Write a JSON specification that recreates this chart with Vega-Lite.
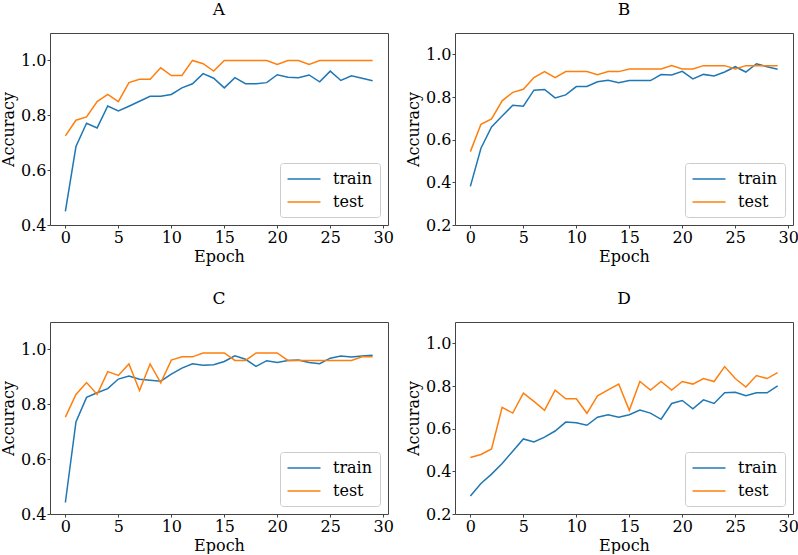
{
  "$schema": "https://vega.github.io/schema/vega-lite/v6.json",
  "background": "white",
  "padding": {"left": 0, "top": 0, "right": 0, "bottom": 0},
  "config": {
    "font": "DejaVu Serif",
    "view": {"stroke": "#444444", "strokeWidth": 1},
    "axis": {"grid": false, "domain": false, "tickColor": "#444444", "tickSize": 3, "tickWidth": 1,
      "labelFont": "DejaVu Serif", "labelFontSize": 16, "labelColor": "#000000", "labelPadding": 1,
      "titleFont": "DejaVu Serif", "titleFontSize": 16, "titleFontWeight": "normal", "titleColor": "#000000"},
    "axisX": {"titlePadding": 3},
    "axisY": {"titlePadding": 4},
    "legend": {"labelFont": "DejaVu Serif", "labelFontSize": 16, "labelColor": "#000000",
      "symbolType": "M-2,0H2", "symbolStrokeWidth": 1.5, "symbolSize": 272, "symbolOffset": 8,
      "strokeColor": "#cccccc", "fillColor": "white", "padding": 7, "cornerRadius": 3,
      "offset": 8, "rowPadding": 6, "labelOffset": 20},
    "title": {"font": "DejaVu Serif", "fontSize": 17, "fontWeight": "normal", "color": "#000000", "offset": 14}
  },
  "data": {"values": [
    {"panel":"A","series":"train","epoch":0,"acc":0.45},{"panel":"A","series":"train","epoch":1,"acc":0.686},{"panel":"A","series":"train","epoch":2,"acc":0.771},{"panel":"A","series":"train","epoch":3,"acc":0.754},{"panel":"A","series":"train","epoch":4,"acc":0.834},{"panel":"A","series":"train","epoch":5,"acc":0.816},{"panel":"A","series":"train","epoch":6,"acc":0.833},{"panel":"A","series":"train","epoch":7,"acc":0.851},{"panel":"A","series":"train","epoch":8,"acc":0.869},{"panel":"A","series":"train","epoch":9,"acc":0.869},{"panel":"A","series":"train","epoch":10,"acc":0.876},{"panel":"A","series":"train","epoch":11,"acc":0.9},{"panel":"A","series":"train","epoch":12,"acc":0.915},{"panel":"A","series":"train","epoch":13,"acc":0.952},{"panel":"A","series":"train","epoch":14,"acc":0.935},{"panel":"A","series":"train","epoch":15,"acc":0.9},{"panel":"A","series":"train","epoch":16,"acc":0.937},{"panel":"A","series":"train","epoch":17,"acc":0.915},{"panel":"A","series":"train","epoch":18,"acc":0.915},{"panel":"A","series":"train","epoch":19,"acc":0.919},{"panel":"A","series":"train","epoch":20,"acc":0.948},{"panel":"A","series":"train","epoch":21,"acc":0.939},{"panel":"A","series":"train","epoch":22,"acc":0.937},{"panel":"A","series":"train","epoch":23,"acc":0.947},{"panel":"A","series":"train","epoch":24,"acc":0.922},{"panel":"A","series":"train","epoch":25,"acc":0.961},{"panel":"A","series":"train","epoch":26,"acc":0.927},{"panel":"A","series":"train","epoch":27,"acc":0.944},{"panel":"A","series":"train","epoch":28,"acc":0.935},{"panel":"A","series":"train","epoch":29,"acc":0.926},
    {"panel":"A","series":"test","epoch":0,"acc":0.725},{"panel":"A","series":"test","epoch":1,"acc":0.782},{"panel":"A","series":"test","epoch":2,"acc":0.794},{"panel":"A","series":"test","epoch":3,"acc":0.85},{"panel":"A","series":"test","epoch":4,"acc":0.876},{"panel":"A","series":"test","epoch":5,"acc":0.85},{"panel":"A","series":"test","epoch":6,"acc":0.919},{"panel":"A","series":"test","epoch":7,"acc":0.931},{"panel":"A","series":"test","epoch":8,"acc":0.931},{"panel":"A","series":"test","epoch":9,"acc":0.973},{"panel":"A","series":"test","epoch":10,"acc":0.945},{"panel":"A","series":"test","epoch":11,"acc":0.945},{"panel":"A","series":"test","epoch":12,"acc":1.0},{"panel":"A","series":"test","epoch":13,"acc":0.988},{"panel":"A","series":"test","epoch":14,"acc":0.961},{"panel":"A","series":"test","epoch":15,"acc":1.0},{"panel":"A","series":"test","epoch":16,"acc":1.0},{"panel":"A","series":"test","epoch":17,"acc":1.0},{"panel":"A","series":"test","epoch":18,"acc":1.0},{"panel":"A","series":"test","epoch":19,"acc":1.0},{"panel":"A","series":"test","epoch":20,"acc":0.985},{"panel":"A","series":"test","epoch":21,"acc":1.0},{"panel":"A","series":"test","epoch":22,"acc":1.0},{"panel":"A","series":"test","epoch":23,"acc":0.985},{"panel":"A","series":"test","epoch":24,"acc":1.0},{"panel":"A","series":"test","epoch":25,"acc":1.0},{"panel":"A","series":"test","epoch":26,"acc":1.0},{"panel":"A","series":"test","epoch":27,"acc":1.0},{"panel":"A","series":"test","epoch":28,"acc":1.0},{"panel":"A","series":"test","epoch":29,"acc":1.0},
    {"panel":"B","series":"train","epoch":0,"acc":0.381},{"panel":"B","series":"train","epoch":1,"acc":0.56},{"panel":"B","series":"train","epoch":2,"acc":0.66},{"panel":"B","series":"train","epoch":3,"acc":0.711},{"panel":"B","series":"train","epoch":4,"acc":0.761},{"panel":"B","series":"train","epoch":5,"acc":0.757},{"panel":"B","series":"train","epoch":6,"acc":0.832},{"panel":"B","series":"train","epoch":7,"acc":0.835},{"panel":"B","series":"train","epoch":8,"acc":0.796},{"panel":"B","series":"train","epoch":9,"acc":0.81},{"panel":"B","series":"train","epoch":10,"acc":0.849},{"panel":"B","series":"train","epoch":11,"acc":0.849},{"panel":"B","series":"train","epoch":12,"acc":0.871},{"panel":"B","series":"train","epoch":13,"acc":0.878},{"panel":"B","series":"train","epoch":14,"acc":0.867},{"panel":"B","series":"train","epoch":15,"acc":0.877},{"panel":"B","series":"train","epoch":16,"acc":0.877},{"panel":"B","series":"train","epoch":17,"acc":0.877},{"panel":"B","series":"train","epoch":18,"acc":0.905},{"panel":"B","series":"train","epoch":19,"acc":0.903},{"panel":"B","series":"train","epoch":20,"acc":0.92},{"panel":"B","series":"train","epoch":21,"acc":0.885},{"panel":"B","series":"train","epoch":22,"acc":0.906},{"panel":"B","series":"train","epoch":23,"acc":0.899},{"panel":"B","series":"train","epoch":24,"acc":0.917},{"panel":"B","series":"train","epoch":25,"acc":0.942},{"panel":"B","series":"train","epoch":26,"acc":0.917},{"panel":"B","series":"train","epoch":27,"acc":0.956},{"panel":"B","series":"train","epoch":28,"acc":0.942},{"panel":"B","series":"train","epoch":29,"acc":0.93},
    {"panel":"B","series":"test","epoch":0,"acc":0.544},{"panel":"B","series":"test","epoch":1,"acc":0.672},{"panel":"B","series":"test","epoch":2,"acc":0.697},{"panel":"B","series":"test","epoch":3,"acc":0.782},{"panel":"B","series":"test","epoch":4,"acc":0.822},{"panel":"B","series":"test","epoch":5,"acc":0.836},{"panel":"B","series":"test","epoch":6,"acc":0.891},{"panel":"B","series":"test","epoch":7,"acc":0.919},{"panel":"B","series":"test","epoch":8,"acc":0.891},{"panel":"B","series":"test","epoch":9,"acc":0.919},{"panel":"B","series":"test","epoch":10,"acc":0.919},{"panel":"B","series":"test","epoch":11,"acc":0.919},{"panel":"B","series":"test","epoch":12,"acc":0.905},{"panel":"B","series":"test","epoch":13,"acc":0.919},{"panel":"B","series":"test","epoch":14,"acc":0.919},{"panel":"B","series":"test","epoch":15,"acc":0.931},{"panel":"B","series":"test","epoch":16,"acc":0.931},{"panel":"B","series":"test","epoch":17,"acc":0.931},{"panel":"B","series":"test","epoch":18,"acc":0.931},{"panel":"B","series":"test","epoch":19,"acc":0.947},{"panel":"B","series":"test","epoch":20,"acc":0.931},{"panel":"B","series":"test","epoch":21,"acc":0.931},{"panel":"B","series":"test","epoch":22,"acc":0.947},{"panel":"B","series":"test","epoch":23,"acc":0.947},{"panel":"B","series":"test","epoch":24,"acc":0.947},{"panel":"B","series":"test","epoch":25,"acc":0.931},{"panel":"B","series":"test","epoch":26,"acc":0.947},{"panel":"B","series":"test","epoch":27,"acc":0.947},{"panel":"B","series":"test","epoch":28,"acc":0.947},{"panel":"B","series":"test","epoch":29,"acc":0.947},
    {"panel":"C","series":"train","epoch":0,"acc":0.442},{"panel":"C","series":"train","epoch":1,"acc":0.736},{"panel":"C","series":"train","epoch":2,"acc":0.825},{"panel":"C","series":"train","epoch":3,"acc":0.842},{"panel":"C","series":"train","epoch":4,"acc":0.857},{"panel":"C","series":"train","epoch":5,"acc":0.892},{"panel":"C","series":"train","epoch":6,"acc":0.903},{"panel":"C","series":"train","epoch":7,"acc":0.891},{"panel":"C","series":"train","epoch":8,"acc":0.888},{"panel":"C","series":"train","epoch":9,"acc":0.884},{"panel":"C","series":"train","epoch":10,"acc":0.91},{"panel":"C","series":"train","epoch":11,"acc":0.932},{"panel":"C","series":"train","epoch":12,"acc":0.948},{"panel":"C","series":"train","epoch":13,"acc":0.942},{"panel":"C","series":"train","epoch":14,"acc":0.944},{"panel":"C","series":"train","epoch":15,"acc":0.956},{"panel":"C","series":"train","epoch":16,"acc":0.977},{"panel":"C","series":"train","epoch":17,"acc":0.964},{"panel":"C","series":"train","epoch":18,"acc":0.938},{"panel":"C","series":"train","epoch":19,"acc":0.959},{"panel":"C","series":"train","epoch":20,"acc":0.952},{"panel":"C","series":"train","epoch":21,"acc":0.96},{"panel":"C","series":"train","epoch":22,"acc":0.961},{"panel":"C","series":"train","epoch":23,"acc":0.952},{"panel":"C","series":"train","epoch":24,"acc":0.948},{"panel":"C","series":"train","epoch":25,"acc":0.968},{"panel":"C","series":"train","epoch":26,"acc":0.976},{"panel":"C","series":"train","epoch":27,"acc":0.972},{"panel":"C","series":"train","epoch":28,"acc":0.976},{"panel":"C","series":"train","epoch":29,"acc":0.979},
    {"panel":"C","series":"test","epoch":0,"acc":0.753},{"panel":"C","series":"test","epoch":1,"acc":0.836},{"panel":"C","series":"test","epoch":2,"acc":0.879},{"panel":"C","series":"test","epoch":3,"acc":0.836},{"panel":"C","series":"test","epoch":4,"acc":0.919},{"panel":"C","series":"test","epoch":5,"acc":0.905},{"panel":"C","series":"test","epoch":6,"acc":0.947},{"panel":"C","series":"test","epoch":7,"acc":0.85},{"panel":"C","series":"test","epoch":8,"acc":0.947},{"panel":"C","series":"test","epoch":9,"acc":0.878},{"panel":"C","series":"test","epoch":10,"acc":0.961},{"panel":"C","series":"test","epoch":11,"acc":0.973},{"panel":"C","series":"test","epoch":12,"acc":0.973},{"panel":"C","series":"test","epoch":13,"acc":0.987},{"panel":"C","series":"test","epoch":14,"acc":0.987},{"panel":"C","series":"test","epoch":15,"acc":0.987},{"panel":"C","series":"test","epoch":16,"acc":0.96},{"panel":"C","series":"test","epoch":17,"acc":0.96},{"panel":"C","series":"test","epoch":18,"acc":0.987},{"panel":"C","series":"test","epoch":19,"acc":0.987},{"panel":"C","series":"test","epoch":20,"acc":0.987},{"panel":"C","series":"test","epoch":21,"acc":0.96},{"panel":"C","series":"test","epoch":22,"acc":0.96},{"panel":"C","series":"test","epoch":23,"acc":0.96},{"panel":"C","series":"test","epoch":24,"acc":0.96},{"panel":"C","series":"test","epoch":25,"acc":0.96},{"panel":"C","series":"test","epoch":26,"acc":0.96},{"panel":"C","series":"test","epoch":27,"acc":0.96},{"panel":"C","series":"test","epoch":28,"acc":0.973},{"panel":"C","series":"test","epoch":29,"acc":0.973},
    {"panel":"D","series":"train","epoch":0,"acc":0.284},{"panel":"D","series":"train","epoch":1,"acc":0.343},{"panel":"D","series":"train","epoch":2,"acc":0.387},{"panel":"D","series":"train","epoch":3,"acc":0.437},{"panel":"D","series":"train","epoch":4,"acc":0.494},{"panel":"D","series":"train","epoch":5,"acc":0.552},{"panel":"D","series":"train","epoch":6,"acc":0.538},{"panel":"D","series":"train","epoch":7,"acc":0.56},{"panel":"D","series":"train","epoch":8,"acc":0.589},{"panel":"D","series":"train","epoch":9,"acc":0.631},{"panel":"D","series":"train","epoch":10,"acc":0.628},{"panel":"D","series":"train","epoch":11,"acc":0.616},{"panel":"D","series":"train","epoch":12,"acc":0.654},{"panel":"D","series":"train","epoch":13,"acc":0.665},{"panel":"D","series":"train","epoch":14,"acc":0.654},{"panel":"D","series":"train","epoch":15,"acc":0.665},{"panel":"D","series":"train","epoch":16,"acc":0.687},{"panel":"D","series":"train","epoch":17,"acc":0.673},{"panel":"D","series":"train","epoch":18,"acc":0.644},{"panel":"D","series":"train","epoch":19,"acc":0.718},{"panel":"D","series":"train","epoch":20,"acc":0.732},{"panel":"D","series":"train","epoch":21,"acc":0.693},{"panel":"D","series":"train","epoch":22,"acc":0.735},{"panel":"D","series":"train","epoch":23,"acc":0.718},{"panel":"D","series":"train","epoch":24,"acc":0.768},{"panel":"D","series":"train","epoch":25,"acc":0.771},{"panel":"D","series":"train","epoch":26,"acc":0.754},{"panel":"D","series":"train","epoch":27,"acc":0.768},{"panel":"D","series":"train","epoch":28,"acc":0.768},{"panel":"D","series":"train","epoch":29,"acc":0.801},
    {"panel":"D","series":"test","epoch":0,"acc":0.465},{"panel":"D","series":"test","epoch":1,"acc":0.479},{"panel":"D","series":"test","epoch":2,"acc":0.505},{"panel":"D","series":"test","epoch":3,"acc":0.7},{"panel":"D","series":"test","epoch":4,"acc":0.673},{"panel":"D","series":"test","epoch":5,"acc":0.767},{"panel":"D","series":"test","epoch":6,"acc":0.728},{"panel":"D","series":"test","epoch":7,"acc":0.686},{"panel":"D","series":"test","epoch":8,"acc":0.781},{"panel":"D","series":"test","epoch":9,"acc":0.74},{"panel":"D","series":"test","epoch":10,"acc":0.74},{"panel":"D","series":"test","epoch":11,"acc":0.672},{"panel":"D","series":"test","epoch":12,"acc":0.754},{"panel":"D","series":"test","epoch":13,"acc":0.782},{"panel":"D","series":"test","epoch":14,"acc":0.809},{"panel":"D","series":"test","epoch":15,"acc":0.686},{"panel":"D","series":"test","epoch":16,"acc":0.821},{"panel":"D","series":"test","epoch":17,"acc":0.781},{"panel":"D","series":"test","epoch":18,"acc":0.821},{"panel":"D","series":"test","epoch":19,"acc":0.781},{"panel":"D","series":"test","epoch":20,"acc":0.821},{"panel":"D","series":"test","epoch":21,"acc":0.809},{"panel":"D","series":"test","epoch":22,"acc":0.835},{"panel":"D","series":"test","epoch":23,"acc":0.821},{"panel":"D","series":"test","epoch":24,"acc":0.891},{"panel":"D","series":"test","epoch":25,"acc":0.835},{"panel":"D","series":"test","epoch":26,"acc":0.795},{"panel":"D","series":"test","epoch":27,"acc":0.849},{"panel":"D","series":"test","epoch":28,"acc":0.835},{"panel":"D","series":"test","epoch":29,"acc":0.863}
  ]},
  "columns": 2,
  "spacing": {"row": 97, "column": 67},
  "bounds": "flush",
  "resolve": {"legend": {"color": "independent"}, "scale": {"y": "independent"}},
  "concat": [
    {
      "title": "A", "width": 338, "height": 192,
      "transform": [{"filter": "datum.panel === 'A'"}],
      "mark": {"type": "line", "strokeWidth": 1.5},
      "encoding": {
        "x": {"field": "epoch", "type": "quantitative", "scale": {"domain": [-1.45, 30.45], "nice": false, "zero": false}, "axis": {"values": [0, 5, 10, 15, 20, 25, 30], "title": "Epoch"}},
        "y": {"field": "acc", "type": "quantitative", "scale": {"domain": [0.4, 1.1], "nice": false, "zero": false}, "axis": {"values": [0.4, 0.6, 0.8, 1.0], "format": ".1f", "title": "Accuracy"}},
        "color": {"field": "series", "type": "nominal", "scale": {"domain": ["train", "test"], "range": ["#1f77b4", "#ff7f0e"]}, "legend": {"title": null, "orient": "bottom-right"}}
      }
    },
    {
      "title": "B", "width": 338, "height": 192,
      "transform": [{"filter": "datum.panel === 'B'"}],
      "mark": {"type": "line", "strokeWidth": 1.5},
      "encoding": {
        "x": {"field": "epoch", "type": "quantitative", "scale": {"domain": [-1.45, 30.45], "nice": false, "zero": false}, "axis": {"values": [0, 5, 10, 15, 20, 25, 30], "title": "Epoch"}},
        "y": {"field": "acc", "type": "quantitative", "scale": {"domain": [0.2, 1.1], "nice": false, "zero": false}, "axis": {"values": [0.2, 0.4, 0.6, 0.8, 1.0], "format": ".1f", "title": "Accuracy"}},
        "color": {"field": "series", "type": "nominal", "scale": {"domain": ["train", "test"], "range": ["#1f77b4", "#ff7f0e"]}, "legend": {"title": null, "orient": "bottom-right"}}
      }
    },
    {
      "title": "C", "width": 338, "height": 192,
      "transform": [{"filter": "datum.panel === 'C'"}],
      "mark": {"type": "line", "strokeWidth": 1.5},
      "encoding": {
        "x": {"field": "epoch", "type": "quantitative", "scale": {"domain": [-1.45, 30.45], "nice": false, "zero": false}, "axis": {"values": [0, 5, 10, 15, 20, 25, 30], "title": "Epoch"}},
        "y": {"field": "acc", "type": "quantitative", "scale": {"domain": [0.4, 1.1], "nice": false, "zero": false}, "axis": {"values": [0.4, 0.6, 0.8, 1.0], "format": ".1f", "title": "Accuracy"}},
        "color": {"field": "series", "type": "nominal", "scale": {"domain": ["train", "test"], "range": ["#1f77b4", "#ff7f0e"]}, "legend": {"title": null, "orient": "bottom-right"}}
      }
    },
    {
      "title": "D", "width": 338, "height": 192,
      "transform": [{"filter": "datum.panel === 'D'"}],
      "mark": {"type": "line", "strokeWidth": 1.5},
      "encoding": {
        "x": {"field": "epoch", "type": "quantitative", "scale": {"domain": [-1.45, 30.45], "nice": false, "zero": false}, "axis": {"values": [0, 5, 10, 15, 20, 25, 30], "title": "Epoch"}},
        "y": {"field": "acc", "type": "quantitative", "scale": {"domain": [0.2, 1.1], "nice": false, "zero": false}, "axis": {"values": [0.2, 0.4, 0.6, 0.8, 1.0], "format": ".1f", "title": "Accuracy"}},
        "color": {"field": "series", "type": "nominal", "scale": {"domain": ["train", "test"], "range": ["#1f77b4", "#ff7f0e"]}, "legend": {"title": null, "orient": "bottom-right"}}
      }
    }
  ]
}
